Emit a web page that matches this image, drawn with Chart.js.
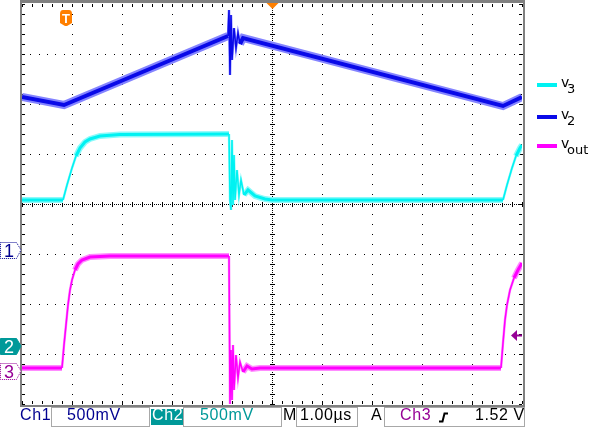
<!DOCTYPE html>
<html>
<head>
<meta charset="utf-8">
<title>Scope capture</title>
<script src="https://cdn.jsdelivr.net/npm/chart.js@4.4.1/dist/chart.umd.min.js"></script>
<style>
  body { margin: 0; background: #fff; }
  #wrap { position: relative; width: 600px; height: 428px; overflow: hidden; font-family: "Liberation Sans", Arial, sans-serif; }
  #scope { position: absolute; left: 0; top: 0; }
  .t { position: absolute; top: 407px; font-size: 16px; line-height: 16px; letter-spacing: 0.6px; white-space: nowrap; color: #000; }
  .box { position: absolute; top: 407px; height: 20px; border: 1px solid #a8a8a8; box-sizing: border-box; }
  .leg { position: absolute; left: 537px; width: 20px; height: 4px; }
  .lv { position: absolute; left: 561px; font-family: "DejaVu Sans", sans-serif; font-size: 14px; line-height: 14px; color: #000; }
  .ls { position: absolute; left: 567px; font-family: "DejaVu Sans", sans-serif; font-size: 13px; line-height: 13px; color: #000; }
</style>
</head>
<body>
<div id="wrap">
  <canvas id="scope" width="600" height="428"></canvas>
  <div id="legend"></div>
  <div id="bar"></div>
</div>
<script>
// time axis: 10 divisions of 1.00 µs, vertical: 8 divisions (values in divisions from bottom)
const v2Time = [0, 0.84, 4.12, 4.14, 4.16, 4.18, 4.20, 4.24, 4.28, 4.32, 4.36, 4.42, 9.62, 10];
const v2Div  = [6.14, 5.98, 7.36, 7.88, 6.58, 7.78, 6.88, 7.52, 7.12, 7.42, 7.20, 7.32, 5.96, 6.14];

const v3Time = [0, 0.82, 0.90, 1.00, 1.08, 1.16, 1.26, 1.36, 1.56, 1.96, 4.14, 4.16, 4.18, 4.20, 4.22, 4.24, 4.26, 4.30, 4.34, 4.38, 4.44, 4.52, 4.66, 4.86, 5.00, 9.62, 9.70, 9.80, 9.88, 9.96, 10];
const v3Div  = [4.08, 4.08, 4.38, 4.72, 4.96, 5.12, 5.24, 5.30, 5.36, 5.39, 5.40, 4.08, 3.88, 5.28, 3.98, 4.98, 4.08, 4.68, 4.18, 4.48, 4.18, 4.28, 4.16, 4.10, 4.08, 4.08, 4.38, 4.72, 4.96, 5.12, 5.18];

const voutTime = [0, 0.80, 0.84, 0.88, 0.92, 0.96, 1.00, 1.06, 1.12, 1.20, 1.36, 1.76, 4.14, 4.16, 4.18, 4.20, 4.22, 4.24, 4.28, 4.32, 4.36, 4.42, 4.50, 4.60, 4.76, 9.58, 9.62, 9.66, 9.70, 9.76, 9.84, 9.92, 10];
const voutDiv  = [0.72, 0.72, 1.18, 1.58, 1.98, 2.28, 2.48, 2.68, 2.80, 2.88, 2.94, 2.96, 2.96, 0.00, 1.08, 0.08, 1.18, 0.28, 0.98, 0.52, 0.84, 0.64, 0.76, 0.70, 0.72, 0.72, 1.22, 1.68, 1.98, 2.28, 2.52, 2.68, 2.82];

const legendSubs = ['3', '2', 'out'];
const groundLevels = [3.08, 1.16, 0.66];   // channel markers 1, 2, 3
const triggerTime = 0.88;
const triggerLevel = 1.38;
const voltsPerDiv = ['500mV', '500mV'];
const timePerDiv = '1.00µs';
const trigText = '1.52 V';

const blue = '#0a0ae8', blueHalo = '#8484ff';
const cyan = '#00f2f2', cyanHalo = '#8cfafa';
const magenta = '#ff00ff', magentaHalo = '#ff8cff';
const navy = '#000090', teal = '#009999', purple = '#960096', orange = '#ff7f00';

function pts(ts, vs) {
    return ts.map((t, i) => ({ x: t, y: vs[i] }));
}

// thin the stroke on the steep edges, like the real trace
function widthFor(wide, thin) {
    return ctx => {
        const dx = Math.abs(ctx.p1.x - ctx.p0.x);
        const dy = Math.abs(ctx.p1.y - ctx.p0.y);
        return dy > 2.5 * dx ? thin : wide;
    };
}

function trace(data, color, w, thin, order) {
    return {
        data: data,
        borderColor: color,
        borderWidth: w,
        segment: { borderWidth: widthFor(w, thin) },
        pointRadius: 0,
        tension: 0,
        fill: false,
        order: order
    };
}

function drawMarker(ctx, py, label, fill, stroke, textColor) {
    const top = Math.round(py) - 8, bot = Math.round(py) + 8;
    ctx.beginPath();
    ctx.moveTo(0.5, top + 0.5);
    ctx.lineTo(16.5, top + 0.5);
    ctx.lineTo(21, py);
    ctx.lineTo(16.5, bot + 0.5);
    ctx.lineTo(0.5, bot + 0.5);
    ctx.closePath();
    ctx.fillStyle = fill;
    ctx.fill();
    ctx.setLineDash(fill === '#ffffff' ? [1, 1] : []);
    ctx.strokeStyle = stroke;
    ctx.lineWidth = 1;
    ctx.stroke();
    ctx.setLineDash([]);
    ctx.fillStyle = textColor;
    ctx.font = '18px "Liberation Sans", Arial, sans-serif';
    ctx.textAlign = 'center';
    ctx.textBaseline = 'alphabetic';
    ctx.fillText(label, 9, bot - 1);
}

const scopeDecor = {
    id: 'scopeDecor',
    beforeDatasetsDraw(chart) {
        const { ctx, chartArea: a, scales: { x, y } } = chart;
        ctx.save();
        ctx.fillStyle = '#000';
        const cy = Math.round(y.getPixelForValue(4));
        const cx = Math.round(x.getPixelForValue(5));
        // dotted graticule, the centre cross is denser
        for (let i = 1; i < 10; i++) {
            const px = Math.round(x.getPixelForValue(i));
            const step = i === 5 ? 2 : 10;
            for (let py = a.top; py <= a.bottom; py += step) ctx.fillRect(px, py, 1, 1);
        }
        for (let j = 1; j < 8; j++) {
            const py = Math.round(y.getPixelForValue(j));
            const step = j === 4 ? 2 : 50 / 6;
            for (let px = a.left; px <= a.right; px += step) ctx.fillRect(Math.round(px), py, 1, 1);
        }
        // minor ticks on the edges and the centre cross
        for (let i = 0; i <= 50; i++) {
            const px = Math.round(x.getPixelForValue(i * 0.2));
            ctx.fillRect(px, a.top, 1, 3);
            ctx.fillRect(px, a.bottom - 3, 1, 3);
            ctx.fillRect(px, cy - 2, 1, 5);
        }
        for (let i = 0; i <= 40; i++) {
            const py = Math.round(y.getPixelForValue(i * 0.2));
            ctx.fillRect(a.left, py, 3, 1);
            ctx.fillRect(a.right - 3, py, 3, 1);
            ctx.fillRect(cx - 2, py, 5, 1);
        }
        ctx.restore();
    },
    afterDraw(chart) {
        const { ctx, chartArea: a, scales: { x, y } } = chart;
        ctx.save();
        // grey frame
        ctx.fillStyle = '#808080';
        ctx.fillRect(a.left - 2, 0, 2, a.bottom + 3);
        ctx.fillRect(a.right + 1, 0, 2, a.bottom + 3);
        ctx.fillRect(a.left - 2, 0, a.right - a.left + 5, 3);
        ctx.fillRect(a.left - 2, a.bottom + 1, a.right - a.left + 5, 2);

        // channel ground markers
        drawMarker(ctx, y.getPixelForValue(groundLevels[0]), '1', '#ffffff', navy, navy);
        drawMarker(ctx, y.getPixelForValue(groundLevels[1]), '2', teal, teal, '#ffffff');
        drawMarker(ctx, y.getPixelForValue(groundLevels[2]), '3', '#ffffff', purple, purple);

        // trigger position "T"
        const tx = Math.round(x.getPixelForValue(triggerTime));
        ctx.fillStyle = orange;
        ctx.beginPath();
        ctx.moveTo(tx - 6, 14);
        ctx.quadraticCurveTo(tx - 6, 10, tx - 3, 10);
        ctx.lineTo(tx + 3, 10);
        ctx.quadraticCurveTo(tx + 6, 10, tx + 6, 14);
        ctx.lineTo(tx + 6, 23);
        ctx.lineTo(tx + 1, 26);
        ctx.lineTo(tx - 1, 26);
        ctx.lineTo(tx - 6, 23);
        ctx.closePath();
        ctx.fill();
        ctx.fillStyle = '#ffffff';
        ctx.font = 'bold 13px "Liberation Sans", Arial, sans-serif';
        ctx.textAlign = 'center';
        ctx.textBaseline = 'alphabetic';
        ctx.fillText('T', tx, 23);

        // horizontal position triangle
        const hx = Math.round(x.getPixelForValue(5)) + 0.5;
        ctx.fillStyle = orange;
        ctx.beginPath();
        ctx.moveTo(hx - 6, 3);
        ctx.lineTo(hx + 6, 3);
        ctx.lineTo(hx, 9);
        ctx.closePath();
        ctx.fill();

        // trigger level arrow
        const ty = Math.round(y.getPixelForValue(triggerLevel));
        ctx.fillStyle = purple;
        ctx.beginPath();
        ctx.moveTo(a.right - 11, ty + 0.5);
        ctx.lineTo(a.right - 5, ty - 5);
        ctx.lineTo(a.right - 5, ty + 6);
        ctx.closePath();
        ctx.fill();
        ctx.fillRect(a.right - 6, ty - 0.5, 6, 2);
        ctx.restore();
    }
};

const chart = new Chart(document.getElementById('scope').getContext('2d'), {
    type: 'line',
    data: {
        datasets: [
            trace(pts(v2Time, v2Div), blue, 4, 1.5, 1),
            trace(pts(v2Time, v2Div), blueHalo, 8, 2.5, 4),
            trace(pts(v3Time, v3Div), cyan, 3, 1.5, 2),
            trace(pts(v3Time, v3Div), cyanHalo, 6, 2.5, 5),
            trace(pts(voutTime, voutDiv), magenta, 3, 1.5, 3),
            trace(pts(voutTime, voutDiv), magentaHalo, 6, 2.5, 6)
        ]
    },
    options: {
        responsive: false,
        animation: false,
        events: [],
        layout: { padding: { left: 22, right: 78, top: 4, bottom: 24 } },
        plugins: { legend: { display: false }, tooltip: { enabled: false } },
        scales: {
            x: {
                type: 'linear', min: 0, max: 10,
                ticks: { display: false, stepSize: 1 },
                grid: { display: false },
                border: { display: false },
                afterFit: s => { s.height = 0; }
            },
            y: {
                type: 'linear', min: 0, max: 8,
                ticks: { display: false, stepSize: 1 },
                grid: { display: false },
                border: { display: false },
                afterFit: s => { s.width = 0; }
            }
        }
    },
    plugins: [scopeDecor]
});

// legend on the right
const legendColors = [cyan, blue, magenta];
const legendRows = [85, 117, 146];
let legendHtml = '';
legendSubs.forEach((sub, i) => {
    const cy = legendRows[i];
    legendHtml += '<div class="leg" style="top:' + (cy - 2) + 'px;background:' + legendColors[i] + '"></div>';
    legendHtml += '<span class="lv" style="top:' + (cy + 2 - 12) + 'px">v</span>';
    legendHtml += '<span class="ls" style="top:' + (cy + 8 - 11) + 'px">' + sub + '</span>';
});
document.getElementById('legend').innerHTML = legendHtml;

// status line under the graticule
document.getElementById('bar').innerHTML =
    '<span class="t" style="left:20px;color:' + navy + '">Ch1</span>' +
    '<div class="box" style="left:51px;width:99px"></div>' +
    '<span class="t" style="left:67px;color:' + navy + '">' + voltsPerDiv[0] + '</span>' +
    '<div style="position:absolute;left:151px;top:409px;width:32px;height:16px;background:' + teal + '"></div>' +
    '<span class="t" style="left:152px;color:#fff">Ch2</span>' +
    '<div class="box" style="left:183px;width:99px"></div>' +
    '<span class="t" style="left:200px;color:' + teal + '">' + voltsPerDiv[1] + '</span>' +
    '<span class="t" style="left:283px">M</span>' +
    '<div class="box" style="left:296px;width:62px"></div>' +
    '<span class="t" style="left:300px">' + timePerDiv + '</span>' +
    '<span class="t" style="left:371px">A</span>' +
    '<div class="box" style="left:384px;width:141px"></div>' +
    '<span class="t" style="left:400px;color:' + purple + '">Ch3</span>' +
    '<svg style="position:absolute;left:439px;top:412px" width="10" height="11"><polyline points="0,9.5 3.5,9.5 5.5,1.5 9,1.5" fill="none" stroke="#000" stroke-width="2"/></svg>' +
    '<span class="t" style="left:475px">' + trigText + '</span>';
</script>
</body>
</html>
